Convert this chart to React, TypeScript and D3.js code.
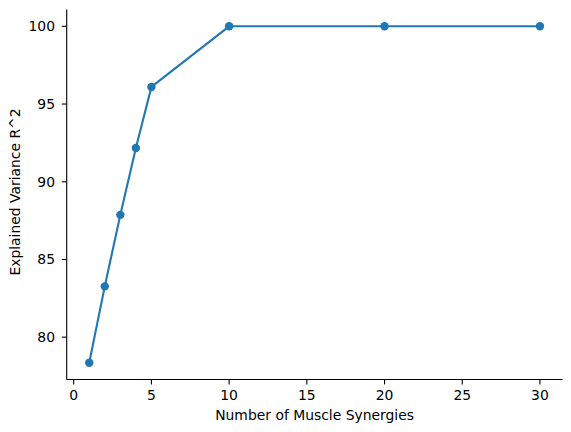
import React from "react";
import * as d3 from "d3";

const synergies = [1, 2, 3, 4, 5, 10, 20, 30];
const varianceR2 = [78.36, 83.27, 87.87, 92.17, 96.1, 100, 100, 100];
const xTicks = [0, 5, 10, 15, 20, 25, 30];
const yTicks = [80, 85, 90, 95, 100];
const xLabel = "Number of Muscle Synergies";
const yLabel = "Explained Variance R^2";

const W = 571;
const H = 432;
const M = { left: 66.7, right: 562.5, top: 9.5, bottom: 379.5 };
const COLOR = "#1f77b4";
const FONT = "DejaVu Sans, sans-serif";
const FS = 13.9;
const TICK = 4.9;

export default function App() {
  const xMin = d3.min(synergies)!;
  const xMax = d3.max(synergies)!;
  const yMin = d3.min(varianceR2)!;
  const yMax = d3.max(varianceR2)!;
  const xPad = (xMax - xMin) * 0.05;
  const yPad = (yMax - yMin) * 0.05;
  const x = d3.scaleLinear().domain([xMin - xPad, xMax + xPad]).range([M.left, M.right]);
  const y = d3.scaleLinear().domain([yMin - yPad, yMax + yPad]).range([M.bottom, M.top]);
  const pts = synergies.map((s, i) => [s, varianceR2[i]] as [number, number]);
  const line = d3.line<[number, number]>().x((d) => x(d[0])).y((d) => y(d[1]));

  return (
    <svg width={W} height={H} style={{ position: "absolute", left: 0, top: 0 }} fontFamily={FONT}>
      <rect width={W} height={H} fill="white" />
      <path d={line(pts) || ""} fill="none" stroke={COLOR} strokeWidth={2.1} strokeLinejoin="round" strokeLinecap="round" />
      {pts.map((p, i) => (
        <circle key={i} cx={x(p[0])} cy={y(p[1])} r={4.2} fill={COLOR} />
      ))}
      <line x1={M.left} x2={M.left} y1={M.top} y2={M.bottom} stroke="black" strokeWidth={1.1} />
      <line x1={M.left} x2={M.right} y1={M.bottom} y2={M.bottom} stroke="black" strokeWidth={1.1} />
      {xTicks.map((t) => (
        <g key={t}>
          <line x1={x(t)} x2={x(t)} y1={M.bottom} y2={M.bottom + TICK} stroke="black" strokeWidth={1.1} />
          <text x={x(t)} y={400.3} textAnchor="middle" fontSize={FS} fill="black">{t}</text>
        </g>
      ))}
      {yTicks.map((t) => (
        <g key={t}>
          <line x1={M.left - TICK} x2={M.left} y1={y(t)} y2={y(t)} stroke="black" strokeWidth={1.1} />
          <text x={55} y={y(t)} dy="0.36em" textAnchor="end" fontSize={FS} fill="black">{t}</text>
        </g>
      ))}
      <text x={(M.left + M.right) / 2} y={420} textAnchor="middle" fontSize={FS} fill="black">{xLabel}</text>
      <text transform={`translate(20.3,${192}) rotate(-90)`} textAnchor="middle" fontSize={FS} fill="black">{yLabel}</text>
    </svg>
  );
}
